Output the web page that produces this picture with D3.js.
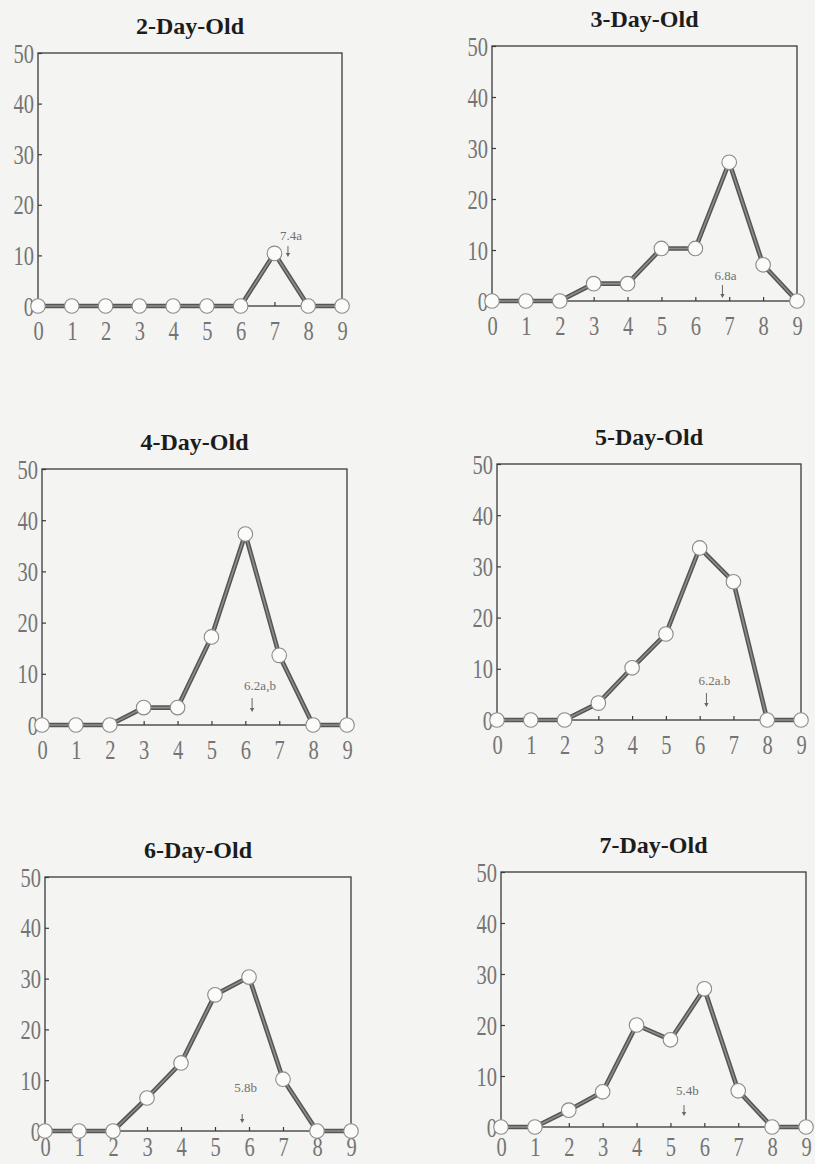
<!DOCTYPE html>
<html>
<head>
<meta charset="utf-8">
<script src="https://cdn.jsdelivr.net/npm/d3@7/dist/d3.min.js"></script>
<style>
  html, body { margin: 0; padding: 0; background: #f4f4f2; }
  svg { display: block; }
</style>
</head>
<body>
<svg id="chart" width="815" height="1164"></svg>
<script>
// Age classes on the x axis and percentage ticks on the y axis
const xTicks = [0, 1, 2, 3, 4, 5, 6, 7, 8, 9];
const yTicks = [0, 10, 20, 30, 40, 50];

// Panel titles
const titles = ["2-Day-Old", "3-Day-Old", "4-Day-Old", "5-Day-Old", "6-Day-Old", "7-Day-Old"];

// Distribution (%) for each age group
const day2 = [0, 0, 0, 0, 0, 0, 0, 10.4, 0, 0];
const day3 = [0, 0, 0, 3.4, 3.4, 10.3, 10.3, 27.2, 7.1, 0];
const day4 = [0, 0, 0, 3.4, 3.4, 17.2, 37.3, 13.6, 0, 0];
const day5 = [0, 0, 0, 3.3, 10.2, 16.8, 33.6, 27.0, 0, 0];
const day6 = [0, 0, 0, 6.5, 13.4, 26.8, 30.3, 10.2, 0, 0];
const day7 = [0, 0, 3.3, 6.9, 20.0, 17.1, 27.1, 7.1, 0, 0];
const seriesList = [day2, day3, day4, day5, day6, day7];

// Mean value marked by an arrow, with its label
const meanValues = [7.4, 6.8, 6.2, 6.2, 5.8, 5.4];
const meanLabels = ["7.4a", "6.8a", "6.2a,b", "6.2a.b", "5.8b", "5.4b"];

// Frame placement of each panel, plus offsets (above the zero line) of the mean label and arrow
const layout = [
  { left: 38,  right: 342, top: 53,  bottom: 306,  textY: 66, arrowTop: 60, arrowBot: 49 },
  { left: 492, right: 797, top: 46,  bottom: 301,  textY: 21, arrowTop: 16, arrowBot: 3 },
  { left: 42,  right: 347, top: 469, bottom: 725,  textY: 35, arrowTop: 27, arrowBot: 13 },
  { left: 497, right: 801, top: 464, bottom: 720,  textY: 35, arrowTop: 27, arrowBot: 13 },
  { left: 45,  right: 351, top: 877, bottom: 1131, textY: 39, arrowTop: 17, arrowBot: 8 },
  { left: 501, right: 806, top: 872, bottom: 1127, textY: 32, arrowTop: 22, arrowBot: 11 }
];

const W = 815, H = 1164;
const svg = d3.select("#chart");
svg.append("rect").attr("width", W).attr("height", H).attr("fill", "#f4f4f2");

const serif = "'Liberation Serif', 'Times New Roman', serif";

seriesList.forEach((values, i) => {
  const L = layout[i];
  const x = d3.scaleLinear().domain([0, 9]).range([L.left, L.right]);
  const y = d3.scaleLinear().domain([0, 50]).range([L.bottom, L.top]);
  const g = svg.append("g");

  // Title
  g.append("text")
    .attr("x", (L.left + L.right) / 2)
    .attr("y", L.top - 19)
    .attr("text-anchor", "middle")
    .attr("font-family", serif)
    .attr("font-weight", "bold")
    .attr("font-size", 24)
    .attr("fill", "#1c1c1c")
    .text(titles[i]);

  // Frame
  g.append("rect")
    .attr("x", x(0)).attr("y", y(50))
    .attr("width", x(9) - x(0)).attr("height", y(0) - y(50))
    .attr("fill", "none")
    .attr("stroke", "#3a3a3a")
    .attr("stroke-width", 1.3);

  // Bottom axis with inward ticks; labels kept inside the page
  const labelDrop = Math.min(34, H - 8 - y(0));
  const xAxis = g.append("g")
    .attr("transform", `translate(0,${y(0)})`)
    .call(d3.axisBottom(x).tickValues(xTicks).tickSize(-4).tickFormat(d3.format("d")));
  xAxis.select(".domain").remove();
  xAxis.selectAll("line").attr("stroke", "#3a3a3a").attr("stroke-width", 1.2);
  xAxis.selectAll("text")
    .attr("y", null).attr("dy", null)
    .attr("transform", `translate(0,${labelDrop}) scale(0.76,1)`)
    .attr("font-family", serif)
    .attr("font-size", 27)
    .attr("fill", "#747474");

  // Left axis with inward ticks
  const yAxis = g.append("g")
    .attr("transform", `translate(${x(0)},0)`)
    .call(d3.axisLeft(y).tickValues(yTicks).tickSize(-4).tickFormat(d3.format("d")));
  yAxis.select(".domain").remove();
  yAxis.selectAll("line").attr("stroke", "#3a3a3a").attr("stroke-width", 1.2);
  yAxis.selectAll("text")
    .attr("x", null).attr("dy", null)
    .attr("text-anchor", "end")
    .attr("transform", "translate(-4,9) scale(0.76,1)")
    .attr("font-family", serif)
    .attr("font-size", 27)
    .attr("fill", "#747474");

  // Data line: dark outer stroke with lighter core
  const pts = values.map((v, k) => [xTicks[k], v]);
  const line = d3.line().x(d => x(d[0])).y(d => y(d[1]));
  g.append("path").datum(pts).attr("d", line)
    .attr("fill", "none").attr("stroke", "#555").attr("stroke-width", 4.6)
    .attr("stroke-linejoin", "round");
  g.append("path").datum(pts).attr("d", line)
    .attr("fill", "none").attr("stroke", "#8e8e8e").attr("stroke-width", 1.6)
    .attr("stroke-linejoin", "round");

  // Open circle markers
  g.selectAll("circle.pt").data(pts).enter().append("circle")
    .attr("class", "pt")
    .attr("cx", d => x(d[0])).attr("cy", d => y(d[1]))
    .attr("r", 7.3)
    .attr("fill", "#fbfbfa")
    .attr("stroke", "#8a8a8a")
    .attr("stroke-width", 1.1);

  // Mean marker: label and downward arrow
  const mx = x(meanValues[i]);
  g.append("text")
    .attr("x", mx - 8)
    .attr("y", y(0) - L.textY)
    .attr("font-family", serif)
    .attr("font-size", 13)
    .attr("fill", "#707070")
    .text(meanLabels[i]);
  const a0 = y(0) - L.arrowTop, a1 = y(0) - L.arrowBot;
  g.append("line")
    .attr("x1", mx).attr("x2", mx).attr("y1", a0).attr("y2", a1 - 2)
    .attr("stroke", "#666").attr("stroke-width", 1);
  g.append("path")
    .attr("d", `M${mx - 2.2},${a1 - 4} L${mx + 2.2},${a1 - 4} L${mx},${a1} Z`)
    .attr("fill", "#666");
});
</script>
</body>
</html>
